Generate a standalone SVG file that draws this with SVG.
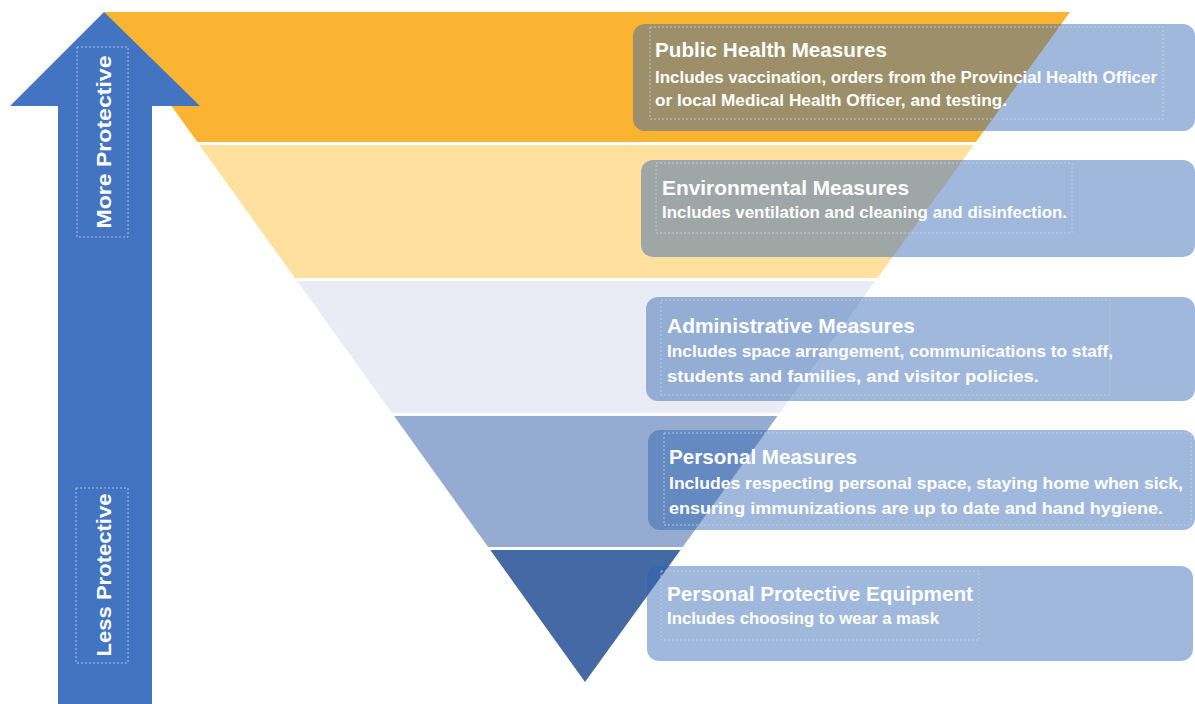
<svg xmlns="http://www.w3.org/2000/svg" width="1195" height="704" viewBox="0 0 1195 704">
<style>
.box{fill:#2A62B0;fill-opacity:0.45}
.dash{fill:none;stroke:#C9D3E3;stroke-width:1;stroke-dasharray:2 2;opacity:0.8}
.t{font-family:"Liberation Sans",Arial,sans-serif;font-weight:bold;fill:#FFFFFF}
.h{font-size:20.5px}
.d{font-size:16px}
.a{font-size:21px}
</style>
<rect width="1195" height="704" fill="#FFFFFF"/>
<g id="pyramid">
<polygon id="band1" points="104,12 1070,12 975.9,142 197.3,142" fill="#FBB432"/>
<polygon id="band2" points="199.5,145 973.7,145 877.4,278 295,278" fill="#FFE09F"/>
<polygon id="band3" points="297.1,281 875.2,281 779.7,413 391.9,413" fill="#E9ECF5"/>
<polygon id="band4" points="394.1,416 777.5,416 682.7,547 488.1,547" fill="#95ABD1"/>
<polygon id="band5" points="490.3,550 680.5,550 585,682" fill="#4569A5"/>
</g>
<g id="arrow">
<polygon points="104,12 200,106 152,106 152,704 58,704 58,106 10,106" fill="#4374C1"/>
<rect class="dash" x="77" y="47" width="51" height="190"/>
<rect class="dash" x="76" y="488" width="52" height="175"/>
<text class="t a" transform="translate(111,142) rotate(-90)" text-anchor="middle" textLength="173" lengthAdjust="spacingAndGlyphs">More Protective</text>
<text class="t a" transform="translate(111,575) rotate(-90)" text-anchor="middle" textLength="163" lengthAdjust="spacingAndGlyphs">Less Protective</text>
</g>
<g id="node-public-health">
<rect class="box" x="633" y="24" width="562" height="107" rx="12"/>
<rect class="dash" x="650" y="27" width="513" height="92"/>
<text class="t h" x="655" y="57" textLength="232" lengthAdjust="spacingAndGlyphs">Public Health Measures</text>
<text class="t d" x="655" y="83" textLength="502" lengthAdjust="spacingAndGlyphs">Includes vaccination, orders from the Provincial Health Officer</text>
<text class="t d" x="655" y="106" textLength="352" lengthAdjust="spacingAndGlyphs">or local Medical Health Officer, and testing.</text>
</g>
<g id="node-environmental">
<rect class="box" x="641" y="160" width="554" height="97" rx="12"/>
<rect class="dash" x="656" y="163" width="416" height="70"/>
<text class="t h" x="662" y="195" textLength="247" lengthAdjust="spacingAndGlyphs">Environmental Measures</text>
<text class="t d" x="662" y="218" textLength="405" lengthAdjust="spacingAndGlyphs">Includes ventilation and cleaning and disinfection.</text>
</g>
<g id="node-administrative">
<rect class="box" x="646" y="297" width="549" height="104" rx="12"/>
<rect class="dash" x="661" y="300" width="449" height="95"/>
<text class="t h" x="667" y="333" textLength="248" lengthAdjust="spacingAndGlyphs">Administrative Measures</text>
<text class="t d" x="667" y="357" textLength="446" lengthAdjust="spacingAndGlyphs">Includes space arrangement, communications to staff,</text>
<text class="t d" x="667" y="382" textLength="372" lengthAdjust="spacingAndGlyphs">students and families, and visitor policies.</text>
</g>
<g id="node-personal">
<rect class="box" x="648" y="430" width="547" height="100" rx="12"/>
<rect class="dash" x="664" y="433" width="527" height="92"/>
<text class="t h" x="669" y="464" textLength="188" lengthAdjust="spacingAndGlyphs">Personal Measures</text>
<text class="t d" x="669" y="489" textLength="514" lengthAdjust="spacingAndGlyphs">Includes respecting personal space, staying home when sick,</text>
<text class="t d" x="669" y="514" textLength="494" lengthAdjust="spacingAndGlyphs">ensuring immunizations are up to date and hand hygiene.</text>
</g>
<g id="node-ppe">
<rect class="box" x="647" y="566" width="546" height="95" rx="12"/>
<rect class="dash" x="661" y="571" width="318" height="69"/>
<text class="t h" x="667" y="601" textLength="306" lengthAdjust="spacingAndGlyphs">Personal Protective Equipment</text>
<text class="t d" x="667" y="624" textLength="272" lengthAdjust="spacingAndGlyphs">Includes choosing to wear a mask</text>
</g>
<g id="connectors"></g>
</svg>
